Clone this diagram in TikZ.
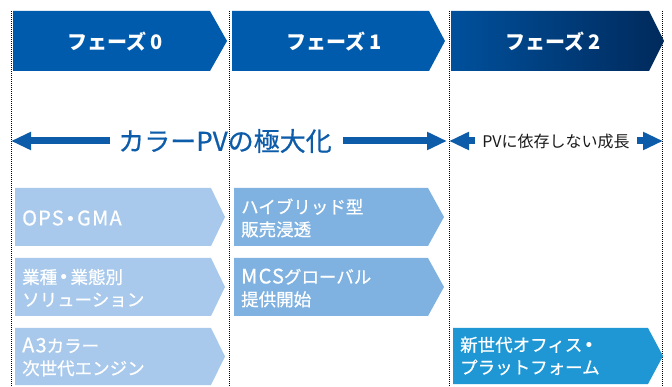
\documentclass[tikz,border=0pt]{standalone}
\usepackage{fontspec}
\newfontfamily\jp{Noto Sans CJK JP}
\newfontfamily\jpm[FakeBold=0.6]{Noto Sans CJK JP}
\newfontfamily\jplat[FakeBold=0.6,LetterSpace=6]{Noto Sans CJK JP}
\newfontfamily\dvs{DejaVu Sans}
\newcommand{\lt}[1]{{\jplat\fontsize{20}{22}\selectfont #1}}
\newcommand{\md}{\hspace{1.5pt}{\dvs •}\hspace{1.5pt}}
\usetikzlibrary{arrows.meta}
\definecolor{hdr}{HTML}{005BAC}
\definecolor{hdrL}{HTML}{00509C}
\definecolor{hdrR}{HTML}{002A5C}
\definecolor{cA}{HTML}{A8C9EB}
\definecolor{cB}{HTML}{7FB2E0}
\definecolor{cC}{HTML}{1E97D4}
\definecolor{bigblue}{HTML}{0D5CAA}
\definecolor{txt}{HTML}{1A1A1A}
\newcommand{\chev}[6][]{% [opts] x1 y1 x2 y2 depth
  \path[#1] (#2,#3) -- ({#4-#6},#3) -- (#4,{(#3+#5)/2}) -- ({#4-#6},#5) -- (#2,#5) -- cycle;}
\tikzset{
  hdrtext/.style={text=white,font=\jp\bfseries\fontsize{20}{24}\selectfont,inner sep=0pt},
  boxtext/.style={text=white,font=\jpm\fontsize{17.5}{22.5}\selectfont,align=left,anchor=west,inner sep=0pt},
  sep/.style={draw=black,line width=0.7pt,dash pattern=on 0.8pt off 1.2pt},
  bigarrow/.style={draw=bigblue,line width=7pt,-{Triangle[length=20pt,width=17pt]}},
}
\begin{document}
\begin{tikzpicture}[x=1pt,y=-1pt]
\useasboundingbox (0,0) rectangle (672,387);
% separators
\foreach \xx in {11,229,449,662} \draw[sep] (\xx,11) -- (\xx,387);
% headers
\chev[fill=hdr]{13}{11}{227}{71}{17}
\chev[fill=hdr]{232}{11}{445}{71}{16}
\chev[left color=hdrL,right color=hdrR]{451}{11}{664}{71}{15}
\node[hdrtext] (h0) at (115,42) {フェーズ\hspace{4pt}0};
\node[hdrtext] (h1) at (334,42) {フェーズ\hspace{4pt}1};
\node[hdrtext] (h2) at (553,42) {フェーズ\hspace{4pt}2};
% arrow row
\node[text=bigblue,font=\jpm\fontsize{26}{30}\selectfont,inner sep=0pt] (cv) at (225,141) {カラーPVの極大化};
\coordinate (a1s) at (110,141); \coordinate (a1t) at (11,141);
\coordinate (a2s) at (343,141); \coordinate (a2t) at (447,141);
\draw[bigarrow] (a1s) -- (a1t);
\draw[bigarrow] (a2s) -- (a2t);
\node[text=txt,font=\jp\fontsize{16}{18}\selectfont,inner sep=0pt] (pv) at (556,141) {PVに依存しない成長};
\coordinate (a3s) at (475,141); \coordinate (a3t) at (449,141);
\coordinate (a4s) at (637,141); \coordinate (a4t) at (663,141);
\draw[bigarrow] (a3s) -- (a3t);
\draw[bigarrow] (a4s) -- (a4t);
% column 1
\chev[fill=cA]{15}{188}{225}{246}{14}
\chev[fill=cA]{15}{258}{225}{316}{14}
\chev[fill=cA]{15}{328}{225}{385}{14}
\node[boxtext] (b1) at (22,218) {\lt{OPS}\md\lt{GMA}};
\node[boxtext] (b2) at (22,288) {業種\md 業態別\\ソリューション};
\node[boxtext] (b3) at (22,357) {\lt{A3}カラー\\次世代エンジン};
% column 2
\chev[fill=cB]{234}{188}{444}{246}{16}
\chev[fill=cB]{234}{258}{444}{316}{16}
\node[boxtext] (c1) at (241,218) {ハイブリッド型\\販売浸透};
\node[boxtext] (c2) at (241,288) {\lt{MCS}グローバル\\提供開始};
% column 3
\chev[fill=cC]{453}{328}{663}{384}{15}
\node[boxtext] (d1) at (460,356) {新世代オフィス\md\\プラットフォーム};
\end{tikzpicture}
\end{document}
